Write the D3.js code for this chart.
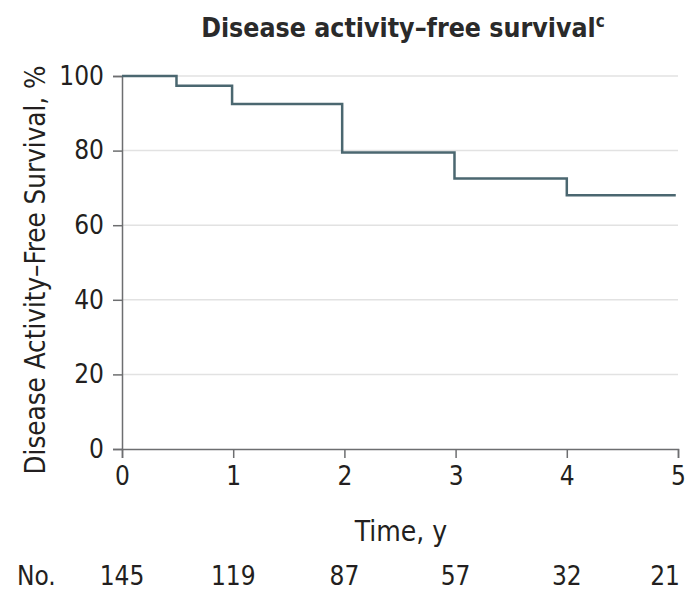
<!DOCTYPE html>
<html>
<head>
<meta charset="utf-8">
<script src="https://cdn.jsdelivr.net/npm/d3@7"></script>
<style>
  body { margin: 0; background: #fff; }
  text { font-family: "DejaVu Sans Condensed", "Liberation Sans Narrow", sans-serif; fill: #231f20; }
</style>
</head>
<body>
<svg width="697" height="591"></svg>
<script>
// step times (years) and survival (%)
const stepTimes = [0, 0.49, 0.99, 1.98, 2.99, 4.0, 4.98];
const survival  = [100, 97.4, 92.5, 79.5, 72.5, 68.0, 68.0];

// ticks and numbers at risk
const xTicks = [0, 1, 2, 3, 4, 5];
const yTicks = [0, 20, 40, 60, 80, 100];
const atRisk = [145, 119, 87, 57, 32, 21];

const svg = d3.select('svg');

const x = d3.scaleLinear().domain([0, 5]).range([122, 678]);
const y = d3.scaleLinear().domain([0, 100]).range([449, 76]);

// gridlines
svg.append('g')
    .selectAll('line')
    .data(yTicks.filter(d => d > 0))
    .join('line')
    .attr('x1', x(0))
    .attr('x2', x(5))
    .attr('y1', d => y(d))
    .attr('y2', d => y(d))
    .attr('stroke', '#e2e2e2')
    .attr('stroke-width', 1.5);

// axes
const yAxis = svg.append('g')
    .attr('transform', `translate(${x(0)},0)`)
    .call(d3.axisLeft(y).tickValues(yTicks).tickSize(9).tickPadding(9));

const xAxis = svg.append('g')
    .attr('transform', `translate(0,${y(0)})`)
    .call(d3.axisBottom(x).tickValues(xTicks).tickFormat(d3.format('d')).tickSize(9).tickPadding(9));

[yAxis, xAxis].forEach(a => {
    a.select('.domain').attr('stroke', '#6d6e70').attr('stroke-width', 1.5);
    a.selectAll('.tick line').attr('stroke', '#6d6e70').attr('stroke-width', 1.5);
    a.selectAll('.tick text')
        .attr('font-size', 26)
        .attr('fill', '#231f20')
        .style('font-family', '"DejaVu Sans Condensed", "Liberation Sans Narrow", sans-serif');
});

// survival step curve
const line = d3.line()
    .x((d, i) => x(stepTimes[i]))
    .y(d => y(d))
    .curve(d3.curveStepAfter);

svg.append('path')
    .datum(survival)
    .attr('d', line)
    .attr('fill', 'none')
    .attr('stroke', '#4b6770')
    .attr('stroke-width', 2.5);

// title
const title = svg.append('text')
    .attr('x', 403)
    .attr('y', 37)
    .attr('text-anchor', 'middle')
    .attr('font-size', 26.5)
    .attr('font-weight', 'bold')
    .style('fill', '#2a2a2a');
title.append('tspan').text('Disease activity–free survival');
title.append('tspan').text('c').attr('font-size', 17).attr('dy', -10);

// axis titles
svg.append('text')
    .attr('transform', 'translate(45,270) rotate(-90)')
    .attr('text-anchor', 'middle')
    .attr('font-size', 27.5)
    .text('Disease Activity–Free Survival, %');

svg.append('text')
    .attr('x', 401)
    .attr('y', 541)
    .attr('text-anchor', 'middle')
    .attr('font-size', 28)
    .text('Time, y');

// numbers at risk
svg.append('text')
    .attr('x', 17)
    .attr('y', 585)
    .attr('font-size', 26)
    .text('No.');

svg.append('g')
    .selectAll('text')
    .data(atRisk)
    .join('text')
    .attr('x', (d, i) => i === atRisk.length - 1 ? x(xTicks[i]) + 2 : x(xTicks[i]))
    .attr('y', 585)
    .attr('text-anchor', (d, i) => i === atRisk.length - 1 ? 'end' : 'middle')
    .attr('font-size', 26)
    .text(d => d);
</script>
</body>
</html>
